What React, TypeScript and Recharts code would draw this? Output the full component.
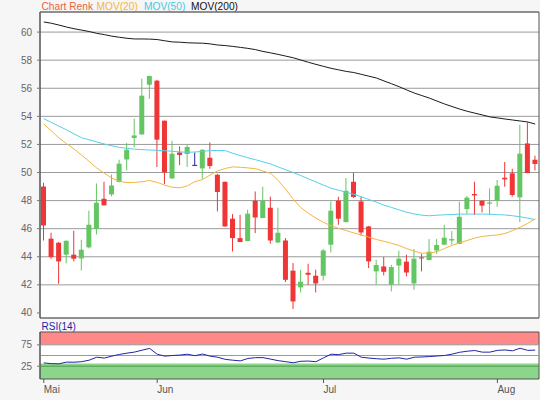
import React from "react";
import {
  ComposedChart,
  Bar,
  Line,
  XAxis,
  YAxis,
  CartesianGrid,
  ReferenceArea,
  ReferenceLine,
} from "recharts";

// ---- data ----
const opens = [
  49.0, 45.29, 45.0, 44.15, 44.15, 43.88, 44.67, 45.98, 48.13, 48.44, 49.32,
  50.93, 52.46, 52.71, 56.25, 56.54, 53.69, 49.58, 51.43, 51.32, 50.51, 50.29,
  51.05, 49.84, 49.34, 46.71, 45.33, 45.12, 47.99, 46.76, 47.49, 45.02, 45.16,
  43.01, 41.82, 42.86, 42.65, 42.65, 44.86, 47.99, 46.47, 49.34, 47.94, 46.16,
  42.96, 43.31, 42.01, 43.38, 43.65, 42.1, 43.95, 43.77, 44.45, 44.86, 45.16,
  44.91, 47.4, 48.47, 47.99, 47.78, 47.97, 49.63, 49.94, 48.23, 52.07, 50.91,
];
const highs = [
  49.27, 45.71, 45.05, 45.15, 45.85, 45.21, 47.28, 49.22, 49.34, 49.86, 50.91,
  52.1, 53.83, 56.68, 56.9, 56.6, 53.7, 52.26, 51.86, 52.03, 51.43, 51.65,
  52.14, 49.9, 49.35, 47.04, 46.99, 47.35, 48.65, 48.99, 48.28, 47.49, 45.33,
  43.55, 43.06, 43.5, 43.08, 44.55, 47.94, 48.28, 49.61, 49.99, 48.3, 46.2,
  43.79, 43.98, 43.43, 44.43, 44.15, 44.55, 44.22, 45.26, 45.26, 46.28, 45.83,
  47.92, 48.33, 49.34, 48.0, 48.87, 49.47, 50.75, 50.27, 53.4, 53.57, 51.2,
];
const lows = [
  45.16, 43.86, 42.08, 43.53, 43.67, 43.03, 44.6, 45.59, 47.66, 48.3, 49.3,
  50.15, 51.79, 52.7, 55.24, 50.39, 49.18, 49.55, 50.53, 50.39, 50.51, 49.54,
  50.27, 47.23, 46.15, 44.38, 45.05, 45.1, 45.69, 46.75, 44.93, 44.98, 42.2,
  40.28, 41.46, 42.01, 41.46, 42.31, 44.31, 46.28, 46.45, 48.2, 45.5, 43.2,
  42.01, 42.67, 41.53, 42.01, 42.6, 41.65, 42.96, 43.75, 44.2, 44.85, 44.88,
  44.9, 47.04, 46.97, 47.16, 46.97, 47.56, 48.99, 48.28, 46.47, 49.95, 50.15,
];
const closes = [
  46.23, 43.98, 43.67, 45.14, 43.86, 44.5, 46.28, 47.85, 47.66, 49.08, 50.63,
  51.62, 52.64, 55.47, 56.87, 52.34, 50.01, 51.34, 51.25, 51.82, 50.51, 51.62,
  50.46, 48.61, 46.16, 45.33, 45.05, 47.07, 46.8, 47.99, 45.16, 45.71, 42.36,
  40.82, 42.22, 42.72, 42.1, 44.45, 47.28, 46.71, 48.7, 48.26, 45.73, 43.67,
  43.41, 42.93, 43.27, 43.86, 42.88, 43.86, 43.9, 44.36, 44.84, 45.36, 45.26,
  46.85, 48.21, 48.37, 47.64, 47.87, 49.06, 49.51, 48.4, 51.34, 49.96, 50.61,
];
const mov20 = [
  53.45, 52.97, 52.46, 52.06, 51.67, 51.24, 50.79, 50.33, 49.95, 49.6, 49.37,
  49.28, 49.29, 49.35, 49.43, 49.3, 49.1, 48.95, 48.91, 49.05, 49.35, 49.5,
  49.82, 50.12, 50.29, 50.4, 50.37, 50.33, 50.27, 50.1, 49.94, 49.44, 48.8,
  48.1, 47.5, 47.1, 46.75, 46.45, 46.21, 46.02, 45.86, 45.7, 45.55, 45.39,
  45.23, 45.1, 44.96, 44.8, 44.58, 44.4, 44.25, 44.27, 44.36, 44.59, 44.82,
  44.99, 45.16, 45.33, 45.45, 45.51, 45.55, 45.66, 45.86, 46.1, 46.38, 46.71,
];
const mov50 = [
  53.83, 53.57, 53.3, 53.04, 52.75, 52.48, 52.33, 52.18, 52.03, 51.9, 51.79,
  51.72, 51.66, 51.63, 51.6, 51.58, 51.55, 51.51, 51.47, 51.44, 51.46, 51.51,
  51.56, 51.57, 51.56, 51.37, 51.21, 51.05, 50.91, 50.76, 50.61, 50.4, 50.2,
  50.0, 49.78, 49.55, 49.33, 49.1, 48.88, 48.74, 48.6, 48.45, 48.27, 48.08,
  47.89, 47.67, 47.51, 47.34, 47.17, 47.05, 46.96, 46.92, 46.96, 46.99, 47.01,
  47.04, 47.04, 47.04, 47.04, 47.03, 47.0, 46.98, 46.92, 46.85, 46.75, 46.64,
];
const mov200 = [
  60.72, 60.63, 60.5, 60.36, 60.24, 60.14, 60.04, 59.91, 59.82, 59.71, 59.63,
  59.56, 59.51, 59.51, 59.5, 59.47, 59.38, 59.3, 59.28, 59.24, 59.22, 59.21,
  59.16, 59.08, 59.04, 58.98, 58.91, 58.84, 58.75, 58.62, 58.52, 58.41, 58.29,
  58.17, 58.01, 57.85, 57.7, 57.56, 57.42, 57.31, 57.2, 57.12, 56.99, 56.86,
  56.73, 56.52, 56.32, 56.11, 55.88, 55.66, 55.48, 55.3, 55.09, 54.88, 54.7,
  54.52, 54.36, 54.23, 54.1, 53.96, 53.89, 53.81, 53.74, 53.67, 53.6, 53.45,
];
const rsi14 = [
  32.7, 31, 30.5, 34.5, 34.3, 35.5, 39, 46, 44, 48.5, 52.5, 55.5, 58, 62.5,
  66.5, 53, 48.5, 50, 51, 53, 49.5, 53.5, 48.5, 46, 41, 39, 37.4, 43, 45, 45,
  41.5, 38, 35.5, 33, 36.5, 37, 35.5, 44.5, 53, 52, 55.5, 55.5, 46, 44, 42.5,
  41.4, 43.5, 44.5, 41.4, 46, 46.5, 47.5, 48.8, 50, 53.2, 57.5, 60, 61.7, 57.9,
  57.9, 62, 63, 61, 67, 62, 62.6,
];
const monthTicks = [0, 15, 37, 60];
const monthLabels = ["Mai", "Jun", "Jul", "Aug"];
const priceTicks = [40, 42, 44, 46, 48, 50, 52, 54, 56, 58, 60];
const rsiTicks = [25, 75];

const rows = opens.map((o, i) => ({
  i,
  open: o,
  high: highs[i],
  low: lows[i],
  close: closes[i],
  range: [lows[i], highs[i]],
  ma20: mov20[i],
  ma50: mov50[i],
  ma200: mov200[i],
  rsi: rsi14[i],
}));

const PRICE_DOMAIN: [number, number] = [39.64, 61.43];
const RSI_DOMAIN: [number, number] = [-5, 105];
const FONT = "'Liberation Sans', Arial, sans-serif";
const GREEN = "#63c663";
const RED = "#ef3535";
const DOJI = "#22229a";

const Candle = (props: any) => {
  const { x, y, width, height, payload } = props;
  if (!payload || x == null || y == null) return null;
  const top = Math.min(y, y + height);
  const h = Math.abs(height);
  const { open, close, high, low } = payload;
  const k = high - low > 0 ? h / (high - low) : 0;
  const cx = x + width / 2;
  const bodyTop = top + (high - Math.max(open, close)) * k;
  const bodyBot = top + (high - Math.min(open, close)) * k;
  if (open === close) {
    return (
      <g>
        <line x1={cx} x2={cx} y1={top} y2={top + h} stroke={DOJI} strokeWidth={1} />
        <line x1={x} x2={x + width} y1={bodyTop} y2={bodyTop} stroke={DOJI} strokeWidth={1} />
      </g>
    );
  }
  const color = close > open ? GREEN : RED;
  return (
    <g>
      <line x1={cx} x2={cx} y1={top} y2={top + h} stroke={color} strokeWidth={1} />
      <rect
        x={x}
        y={bodyTop}
        width={width}
        height={Math.max(1, bodyBot - bodyTop)}
        fill={color}
      />
    </g>
  );
};

const tickStyle = { fill: "#666", fontSize: 10, fontFamily: FONT };

export default function App() {
  return (
    <div
      style={{
        position: "absolute",
        left: 0,
        top: 0,
        width: 540,
        height: 400,
        background: "#f6f6f6",
        fontFamily: FONT,
        overflow: "hidden",
      }}
    >
      <div
        style={{
          position: "absolute",
          top: 0,
          left: 0,
          width: 540,
          height: 13,
          fontSize: 10.2,
          lineHeight: "13px",
          whiteSpace: "nowrap",
        }}
      >
        <span style={{ position: "absolute", left: 41.5, color: "#e8643a" }}>Chart Renk</span>
        <span style={{ position: "absolute", left: 96.5, color: "#f4b53f" }}>MOV(20)</span>
        <span style={{ position: "absolute", left: 144, color: "#45c8e6" }}>MOV(50)</span>
        <span style={{ position: "absolute", left: 191, color: "#111" }}>MOV(200)</span>
      </div>
      <div style={{ position: "absolute", top: 0, left: 0 }}>
        <ComposedChart
          width={540}
          height={320}
          data={rows}
          margin={{ top: 12, right: 1, bottom: 2, left: 0 }}
        >
          <CartesianGrid vertical={false} stroke="#9a9a9a" fill="#ffffff" />
          <XAxis dataKey="i" type="category" scale="band" hide />
          <YAxis
            domain={PRICE_DOMAIN}
            ticks={priceTicks}
            allowDataOverflow
            width={40}
            axisLine={{ stroke: "#555" }}
            tickLine={{ stroke: "#777" }}
            tickSize={3}
            tickMargin={5}
            tick={tickStyle}
          />
          <Line
            dataKey="ma200"
            stroke="#1a1a1a"
            strokeWidth={1}
            dot={false}
            activeDot={false}
            isAnimationActive={false}
          />
          <Line
            dataKey="ma50"
            stroke="#56cfe6"
            strokeWidth={1}
            dot={false}
            activeDot={false}
            isAnimationActive={false}
          />
          <Line
            dataKey="ma20"
            stroke="#f4b53f"
            strokeWidth={1}
            dot={false}
            activeDot={false}
            isAnimationActive={false}
          />
          <Bar dataKey="range" barSize={5} shape={Candle} isAnimationActive={false} />
          <ReferenceArea
            y1={PRICE_DOMAIN[0]}
            y2={PRICE_DOMAIN[1]}
            fill="none"
            fillOpacity={0}
            stroke="#555"
            strokeOpacity={1}
            ifOverflow="visible"
          />
        </ComposedChart>
      </div>
      <div
        style={{
          position: "absolute",
          top: 320,
          left: 41.5,
          fontSize: 10,
          lineHeight: "13px",
          color: "#1e1ea8",
        }}
      >
        RSI(14)
      </div>
      <div style={{ position: "absolute", top: 320, left: 0 }}>
        <ComposedChart
          width={540}
          height={80}
          data={rows}
          margin={{ top: 12, right: 1, bottom: 1, left: 0 }}
        >
          <CartesianGrid vertical={false} horizontal={false} fill="#ffffff" />
          <XAxis
            dataKey="i"
            type="category"
            scale="band"
            ticks={monthTicks}
            interval={0}
            height={20}
            axisLine={false}
            tickLine={{ stroke: "#555" }}
            tickSize={4}
            tickMargin={3}
            tickFormatter={(v: any) => monthLabels[monthTicks.indexOf(Number(v))] ?? ""}
            tick={{ ...tickStyle, fill: "#555", textAnchor: "start" }}
          />
          <YAxis
            domain={RSI_DOMAIN}
            ticks={rsiTicks}
            allowDataOverflow
            width={40}
            axisLine={{ stroke: "#555" }}
            tickLine={{ stroke: "#777" }}
            tickSize={3}
            tickMargin={5}
            tick={tickStyle}
          />
          <ReferenceArea y1={75} y2={RSI_DOMAIN[1]} fill="#ff8888" fillOpacity={1} stroke="none" ifOverflow="visible" />
          <ReferenceArea y1={RSI_DOMAIN[0]} y2={31} fill="#8bd68b" fillOpacity={1} stroke="none" ifOverflow="visible" />
          <ReferenceLine y={75} stroke="#999" />
          <ReferenceLine y={50} stroke="#999" />
          <ReferenceLine y={25} stroke="#4d9a4d" />
          <Line
            dataKey="rsi"
            stroke="#2323a8"
            strokeWidth={1}
            dot={false}
            activeDot={false}
            isAnimationActive={false}
          />
          <ReferenceArea
            y1={RSI_DOMAIN[0]}
            y2={RSI_DOMAIN[1]}
            fill="none"
            fillOpacity={0}
            stroke="#555"
            ifOverflow="visible"
          />
        </ComposedChart>
      </div>
    </div>
  );
}
